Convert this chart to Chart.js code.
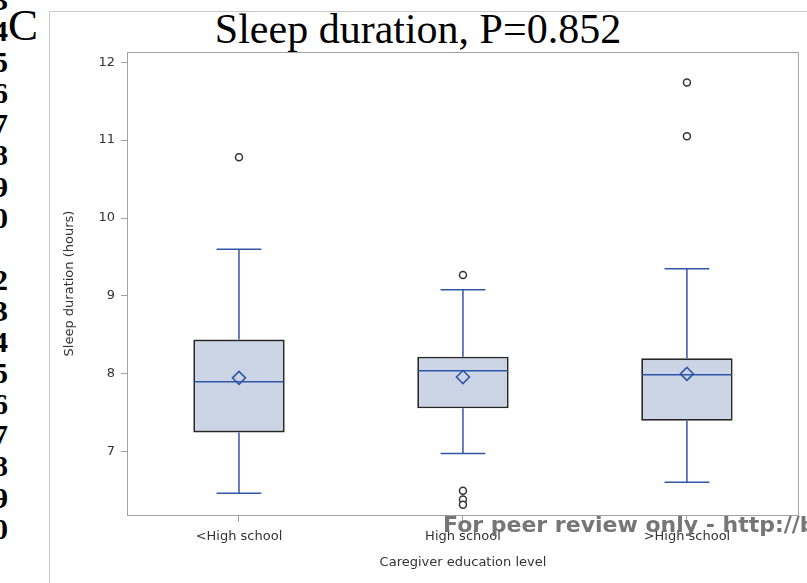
<!DOCTYPE html>
<html>
<head>
<meta charset="utf-8">
<script src="https://cdn.jsdelivr.net/npm/chart.js@4"></script>
<style>
    body { margin: 0; background: #fff; }
    #page { position: relative; width: 807px; height: 583px; overflow: hidden; background: #fff; }
    #frame { position: absolute; left: 49px; top: 11px; width: 900px; height: 700px;
             border-left: 1px solid #c8c8c8; border-top: 1px solid #c8c8c8; }
    #lineNums { position: absolute; left: -60px; top: -16px; width: 68px; text-align: right;
                font: bold 30px 'Liberation Serif'; line-height: 31.1px; color: #000; }
    #panel { position: absolute; left: 8px; top: 3px; font: 45px 'Liberation Serif'; line-height: 45px; color: #000; }
    #title { position: absolute; left: 0; top: 8px; width: 836px; text-align: center;
             font: 42px 'Liberation Serif'; line-height: 42px; color: #000; white-space: nowrap; }
    #chart { position: absolute; left: 0; top: 0; }
    #stamp { position: absolute; left: 443px; top: 514px; white-space: nowrap;
             font: bold 22px 'DejaVu Sans'; line-height: 22px; color: #6b6b6b; opacity: 0.92; }
</style>
</head>
<body>
<div id="page">
    <div id="frame"></div>
    <div id="lineNums"></div>
    <div id="panel">C</div>
    <div id="title">Sleep duration, P=0.852</div>
    <canvas id="chart" width="807" height="583"></canvas>
    <div id="stamp">For peer review only - http://bmjopen.bmj.com/site/about/guidelines.xhtml</div>
</div>
<script>
const categories = ['<High school', 'High school', '>High school'];
const q1 = [7.25, 7.56, 7.40];
const q3 = [8.44, 8.22, 8.20];
const medians = [7.90, 8.04, 7.99];
const means = [7.95, 7.96, 8.00];
const whiskerLow = [6.47, 6.98, 6.61];
const whiskerHigh = [9.60, 9.08, 9.35];
const outlierGroup = [0, 1, 1, 1, 1, 2, 2];
const outlierValues = [10.78, 9.27, 6.50, 6.39, 6.32, 11.74, 11.05];
const yTicks = [7, 8, 9, 10, 11, 12];
const yRange = [6.19, 12.13];
const marginDigits = ['3', '4', '5', '6', '7', '8', '9', '0', '', '2', '3', '4', '5', '6', '7', '8', '9', '0'];

const BLUE = '#3056a8';
const AXIS = '#a0a0a0';
const TEXT = '#333';
const SANS = 'DejaVu Sans';

document.getElementById('lineNums').innerHTML = marginDigits.map(d => `<div>${d || '&nbsp;'}</div>`).join('');

// whiskers, caps and median lines, drawn right after the boxes
const boxParts = {
    id: 'boxParts',
    afterDatasetDraw(chart, args) {
        if (args.index !== 0) return;
        const { ctx, scales: { x, y } } = chart;
        const bars = chart.getDatasetMeta(0).data;
        ctx.save();
        ctx.strokeStyle = BLUE;
        ctx.lineWidth = 1.5;
        const seg = (x1, y1, x2, y2) => {
            ctx.beginPath();
            ctx.moveTo(x1, y1);
            ctx.lineTo(x2, y2);
            ctx.stroke();
        };
        categories.forEach((c, i) => {
            const cx = x.getPixelForValue(i);
            const half = bars[i].width / 2;
            const cap = half * 0.49;
            const top = y.getPixelForValue(whiskerHigh[i]);
            const bot = y.getPixelForValue(whiskerLow[i]);
            seg(cx, y.getPixelForValue(q3[i]), cx, top);
            seg(cx, y.getPixelForValue(q1[i]), cx, bot);
            seg(cx - cap, top, cx + cap, top);
            seg(cx - cap, bot, cx + cap, bot);
            const my = y.getPixelForValue(medians[i]);
            seg(cx - half + 1, my, cx + half - 1, my);
        });
        ctx.restore();
    },
    afterDraw(chart) {
        const { ctx, chartArea: a } = chart;
        ctx.save();
        ctx.strokeStyle = AXIS;
        ctx.lineWidth = 1;
        ctx.strokeRect(a.left + 0.5, a.top + 0.5, a.right - a.left - 1, a.bottom - a.top);
        ctx.restore();
    }
};

new Chart(document.getElementById('chart'), {
    type: 'bar',
    data: {
        labels: categories,
        datasets: [
            {
                label: 'IQR',
                order: 3,
                data: q1.map((v, i) => [v, q3[i]]),
                backgroundColor: '#cbd5e6',
                borderColor: '#262626',
                borderWidth: 1.8,
                borderSkipped: false,
                barPercentage: 0.408,
                categoryPercentage: 1
            },
            {
                type: 'line',
                label: 'Mean',
                order: 1,
                data: means,
                showLine: false,
                pointStyle: 'rectRot',
                pointRadius: 6.5,
                pointBorderWidth: 1.6,
                pointBorderColor: BLUE,
                pointBackgroundColor: 'rgba(0,0,0,0)'
            },
            {
                type: 'line',
                label: 'Outliers',
                order: 2,
                data: outlierValues.map((v, i) => ({ x: categories[outlierGroup[i]], y: v })),
                showLine: false,
                pointStyle: 'circle',
                pointRadius: 3.5,
                pointBorderWidth: 1.5,
                pointBorderColor: '#333',
                pointBackgroundColor: '#fff'
            }
        ]
    },
    options: {
        responsive: false,
        animation: false,
        devicePixelRatio: 1,
        events: [],
        layout: { padding: { left: 58, right: 4, top: 52, bottom: 0 } },
        plugins: { legend: { display: false }, tooltip: { enabled: false } },
        scales: {
            x: {
                offset: true,
                afterFit: s => { s.height = 68; },
                grid: { display: true, drawOnChartArea: false, drawTicks: true, tickLength: 7, color: AXIS, offset: false },
                border: { color: AXIS },
                ticks: { font: { family: SANS, size: 13 }, color: TEXT, padding: 7, maxRotation: 0 },
                title: { display: true, text: 'Caregiver education level', font: { family: SANS, size: 13 }, color: TEXT, padding: { top: 4, bottom: 13 } }
            },
            y: {
                min: yRange[0],
                max: yRange[1],
                afterFit: s => { s.width = 69; },
                afterBuildTicks: s => { s.ticks = yTicks.map(v => ({ value: v })); },
                grid: { display: true, drawOnChartArea: false, drawTicks: true, tickLength: 6, color: AXIS },
                border: { color: AXIS },
                ticks: { font: { family: SANS, size: 13 }, color: TEXT, padding: 6, callback: v => String(v) },
                title: { display: true, text: 'Sleep duration (hours)', font: { family: SANS, size: 13 }, color: TEXT, padding: { top: 4, bottom: 4 } }
            }
        }
    },
    plugins: [boxParts]
});
</script>
</body>
</html>
